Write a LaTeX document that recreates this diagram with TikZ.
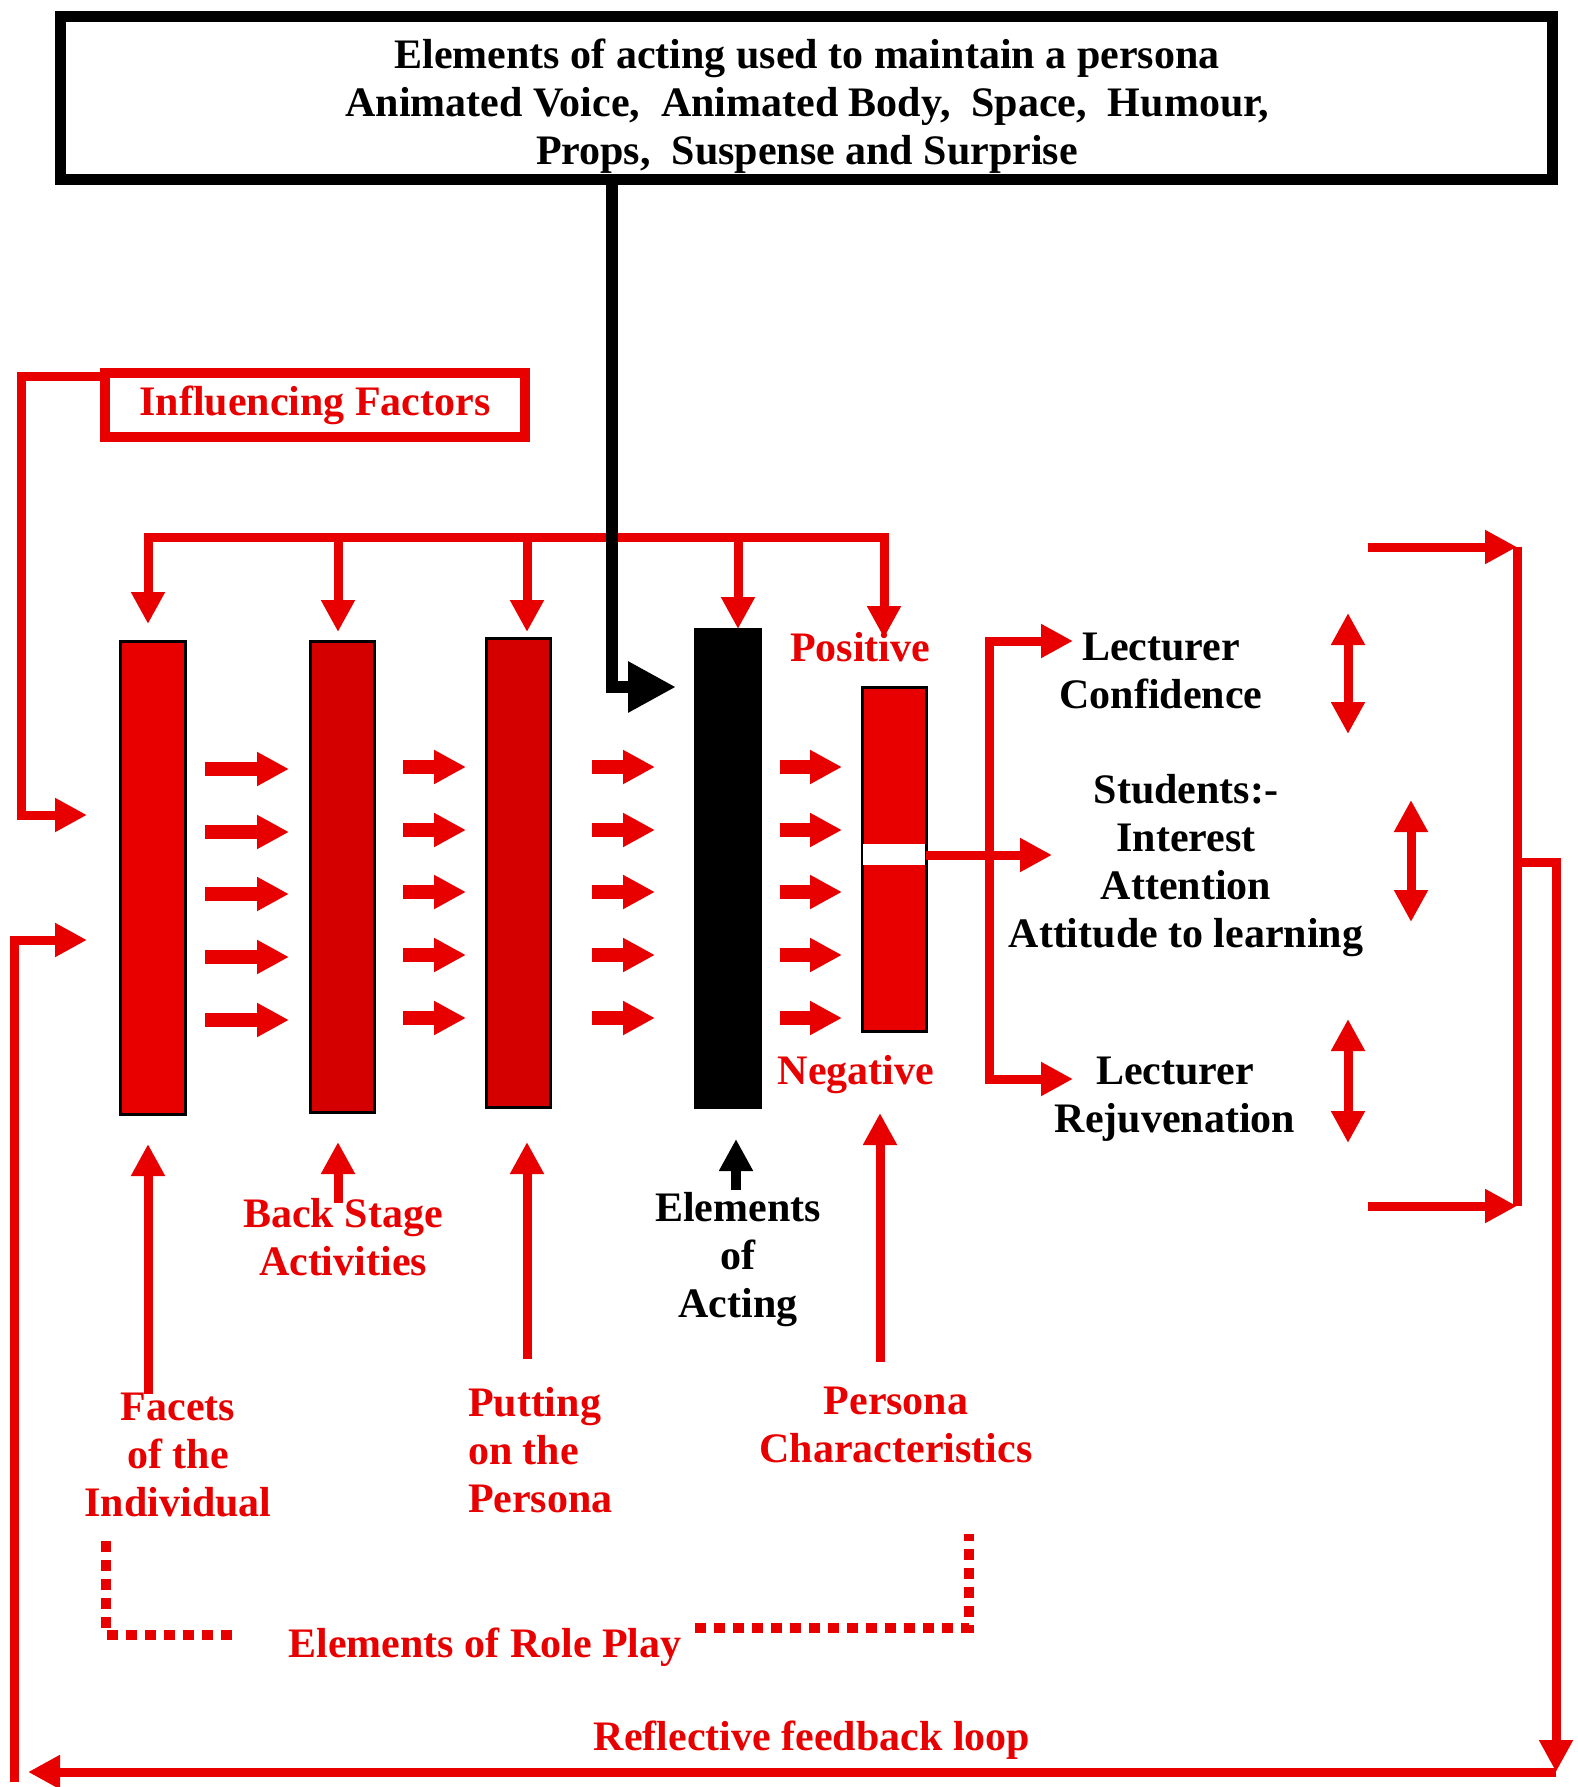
\documentclass[tikz,border=0pt]{standalone}
\usepackage{fontspec}
\setmainfont{Liberation Serif}
\usetikzlibrary{arrows.meta,calc}
\definecolor{rd}{RGB}{232,0,0}
\definecolor{rdd}{RGB}{212,0,0}
\begin{document}
\begin{tikzpicture}[x=0.5pt,y=-0.5pt,line join=miter,
  txt/.style={font=\fontsize{21}{24}\selectfont\bfseries,align=center,inner sep=0pt,outer sep=0pt},
  rtxt/.style={txt,text=rd},
  bar/.style={draw=black,line width=1.5pt,minimum width=32.5pt,inner sep=0pt,outer sep=0pt},
  rl/.style={draw=rd,line width=4.5pt},
  ra/.style={rl,-{Triangle[length=16pt,width=16pt]}},
  rda/.style={rl,{Triangle[length=16pt,width=16pt]}-{Triangle[length=16pt,width=16pt]}},
  fa/.style={draw=rd,line width=7pt,-{Triangle[length=16pt,width=16pt]}},
  dotl/.style={draw=rd,line width=5pt,dash pattern=on 5.5pt off 4pt},
]
\useasboundingbox (0,0) rectangle (1578,1787);
\fill[white] (0,0) rectangle (1578,1787);

% top box
\node[draw=black,line width=5.5pt,minimum width=746pt,minimum height=81.5pt,inner sep=0pt,outer sep=0pt] (top) at (806,98.5) {};
\node[txt] (toptext) at (807,106)
  {Elements of acting used to maintain a persona\\Animated Voice,~ Animated Body,~ Space,~ Humour,\\Props,~ Suspense and Surprise};

% influencing factors
\node[rtxt,draw=rd,line width=5pt,minimum width=210pt,minimum height=32pt] (inf) at (315,405) {Influencing Factors};

% bars
\node[bar,fill=rd,minimum height=236.5pt] (b1) at (152.5,877.5) {};
\node[bar,fill=rdd,minimum width=32pt,minimum height=235.5pt] (b2) at (342,876.5) {};
\node[bar,fill=rdd,minimum width=32pt,minimum height=234.5pt] (b3) at (518,872.5) {};
\node[bar,fill=black,minimum height=239pt] (b4) at (727.5,868) {};
\node[bar,fill=rd,minimum width=32pt,minimum height=172pt] (b5) at (894,859) {};
\fill[white] (863,844) rectangle (925,865);

% arrows between bars
\foreach \y in {767,830,892,955,1018} {
  \draw[fa] (205,\y+2) -- (289,\y+2);
  \draw[fa] (403,\y) -- (466,\y);
  \draw[fa] (592,\y) -- (655,\y);
  \draw[fa] (780,\y) -- (842,\y);
}

% top distribution
\draw[ra] (500,537) -| (148,624);
\draw[ra] (500,537) -| (884,638);
\draw[ra] (338,537) -- (338,632);
\draw[ra] (527,537) -- (527,632);
\draw[ra] (738,537) -- (738,629);

% black arrow from top box
\draw[black,line width=6pt,-{Triangle[length=24pt,width=24pt]}] (612,0 |- top.south) -- (612,687) -- (676,687);

% left feedback arrows
\draw[ra] ([yshift=-1.5pt]inf.north west) -| (21,815) -- (87,815);
\draw[ra] (14,1782) -- (14,940) -- (87,940);

% persona bracket
\draw[rl,{Triangle[length=16pt,width=16pt]}-{Triangle[length=16pt,width=16pt]}] (1073,641) -- (989,641) -- (989,1079) -- (1073,1079);
\draw[ra] (926,855) -- (1052,855);

% double arrows
\draw[rda] (1348,613) -- (1348,734);
\draw[rda] (1411,800) -- (1411,922);
\draw[rda] (1348,1019) -- (1348,1143);

% right bracket and feedback loop
\draw[ra] (1368,547) -- (1517,547);
\draw[ra] (1368,1206) -- (1517,1206);
\draw[rl] (1517,547) -- (1517,1206);
\draw[ra] (1517,862) -- (1556,862) -- (1556,1772);
\draw[ra] (1556,1772) -- (28,1772);

% up arrows
\draw[ra] (148,1394) -- (148,1144);
\draw[ra] (338,1203) -- (338,1142);
\draw[ra] (527,1359) -- (527,1142);
\draw[black,line width=5pt,-{Triangle[length=16pt,width=16pt]}] (736,1190) -- (736,1139);
\draw[ra] (880,1362) -- (880,1113);

% dotted lines
\draw[dotl] (106,1541) -- (106,1635) -- (233,1635);
\draw[dotl] (695,1628) -- (969,1628) -- (969,1534);

% labels
\node[rtxt] (pos) at (860,647) {Positive};
\node[rtxt] (neg) at (856,1075) {Negative};
\node[txt] (conf) at (1161,671) {Lecturer\\Confidence};
\node[txt] (stud) at (1186,866) {Students:-\\Interest\\Attention\\Attitude to learning};
\node[txt] (rejuv) at (1175,1099) {Lecturer\\Rejuvenation};
\node[rtxt] (facets) at (178,1455) {Facets\\of the\\Individual};
\node[rtxt] (back) at (343,1237) {Back Stage\\Activities};
\node[rtxt,align=left,anchor=west] (putting) at (468,1450) {Putting\\on the\\Persona};
\node[txt] (acting) at (738,1260) {Elements\\of\\Acting};
\node[rtxt] (pchar) at (896,1425) {Persona\\Characteristics};
\node[rtxt] (role) at (485,1647) {Elements of Role Play};
\node[rtxt] (refl) at (812,1740) {Reflective feedback loop};
\end{tikzpicture}
\end{document}
